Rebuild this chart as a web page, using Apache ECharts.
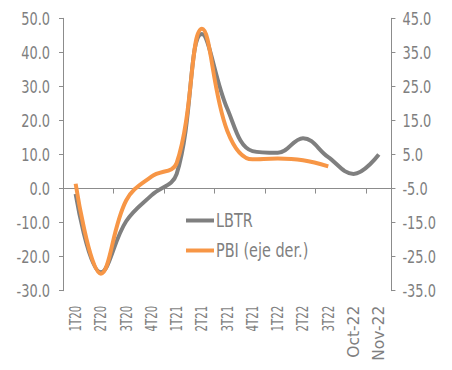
<!DOCTYPE html>
<html><head><meta charset="utf-8">
<script src="https://cdn.jsdelivr.net/npm/echarts@6/dist/echarts.min.js"></script>
<style>html,body{margin:0;padding:0;background:#fff}#c{width:452px;height:370px}</style>
</head><body><div id="c"></div>
<script>
const categories = ['1T20','2T20','3T20','4T20','1T21','2T21','3T21','4T21','1T22','2T22','3T22','Oct-22','Nov-22'];
const lbtr = [-1.6, -24.6, -9.6, -2.0, 4.3, 45.4, 23.5, 11.0, 10.5, 14.8, 9.2, 4.3, 10.0];
const pbi  = [-3.6, -30.0, -8.5, -1.5, 2.5, 41.9, 12.0, 3.6, 3.8, 3.3, 1.5, null, null];
const leftAxisRange = [-30, 50];
const rightAxisRange = [-35, 45];
const tickStep = 10;
const seriesNames = ['LBTR', 'PBI (eje der.)'];

const FONT = "'DejaVu Sans', sans-serif";
const TXT = '#7f7f7f';
const AX = '#8c8c8c';
const el = document.getElementById('c');
const chart = echarts.init(el, null, {renderer: 'svg'});
const isMonth = s => /^[A-Z][a-z]{2}-\d\d$/.test(s);
chart.setOption({
  animation: false,
  backgroundColor: '#fff',
  grid: {left: 63, right: 50, top: 18.3, bottom: 79.3, containLabel: false},
  legend: {
    orient: 'vertical', left: 186, top: 211, padding: 0,
    itemWidth: 28, itemHeight: 4, itemGap: 11, icon: 'rect',
    textStyle: {fontFamily: FONT, fontSize: 19, color: TXT, padding: [0,0,0,-3]},
    data: seriesNames
  },
  xAxis: [{
    type: 'category', data: categories, boundaryGap: true,
    axisLine: {onZero: true, onZeroAxisIndex: 0, lineStyle: {color: AX, width: 1}},
    axisTick: {show: true, length: 5, lineStyle: {color: AX}},
    axisLabel: {show: false}, splitLine: {show: false}
  }, {
    type: 'category', data: categories, boundaryGap: true, position: 'bottom',
    axisLine: {show: false, onZero: false}, axisTick: {show: false},
    axisLabel: {show: true, rotate: 90, margin: 15, interval: 0,
      fontFamily: FONT, fontSize: 16, color: TXT,
      formatter: v => isMonth(v) ? '{m|' + v + '}' : '{q|' + v + '}',
      rich: {
        q: {fontFamily: FONT, fontSize: 16, color: TXT},
        m: {fontFamily: FONT, fontSize: 15.5, color: TXT}
      }},
    splitLine: {show: false}
  }],
  yAxis: [{
    type: 'value', position: 'left', min: leftAxisRange[0], max: leftAxisRange[1], interval: tickStep,
    axisLine: {show: true, lineStyle: {color: AX}},
    axisTick: {show: true, length: 4, lineStyle: {color: AX}},
    axisLabel: {margin: 13, fontFamily: FONT, fontSize: 18, color: TXT, formatter: v => v.toFixed(1)},
    splitLine: {show: false}
  }, {
    type: 'value', position: 'right', min: rightAxisRange[0], max: rightAxisRange[1], interval: tickStep,
    axisLine: {show: true, lineStyle: {color: AX}},
    axisTick: {show: true, length: 4, lineStyle: {color: AX}},
    axisLabel: {margin: 11, fontFamily: FONT, fontSize: 18, color: TXT, formatter: v => v.toFixed(1)},
    splitLine: {show: false}
  }],
  series: [{
    name: seriesNames[0], type: 'line', data: lbtr, xAxisIndex: 0, yAxisIndex: 0,
    smooth: 0.4, showSymbol: false, symbol: 'none',
    lineStyle: {color: '#7f7f7f', width: 4}, itemStyle: {color: '#7f7f7f'}, z: 2
  }, {
    name: seriesNames[1], type: 'line', data: pbi, xAxisIndex: 0, yAxisIndex: 1,
    smooth: 0.4, showSymbol: false, symbol: 'none',
    lineStyle: {color: '#f79646', width: 4}, itemStyle: {color: '#f79646'}, z: 3
  }]
});
// narrow the glyphs along the reading direction (the reference uses a condensed face)
function squeeze() {
  el.querySelectorAll('text').forEach(t => {
    if (t.getAttribute('data-sq')) return;
    const txt = (t.textContent || '').trim();
    let s = 0.72;
    if (isMonth(txt)) s = 1;
    else if (categories.indexOf(txt) >= 0) s = 0.64;
    else if (seriesNames.indexOf(txt) >= 0) s = 0.76;
    t.setAttribute('data-sq', '1');
    if (s === 1) return;
    const x = parseFloat(t.getAttribute('x') || 0), y = parseFloat(t.getAttribute('y') || 0);
    const tr = t.getAttribute('transform') || '';
    t.setAttribute('transform', tr + ' translate(' + x + ' ' + y + ') scale(' + s + ' 1) translate(' + (-x) + ' ' + (-y) + ')');
  });
}
chart.on('finished', squeeze);
setTimeout(squeeze, 30);
setTimeout(squeeze, 300);
</script></body></html>
